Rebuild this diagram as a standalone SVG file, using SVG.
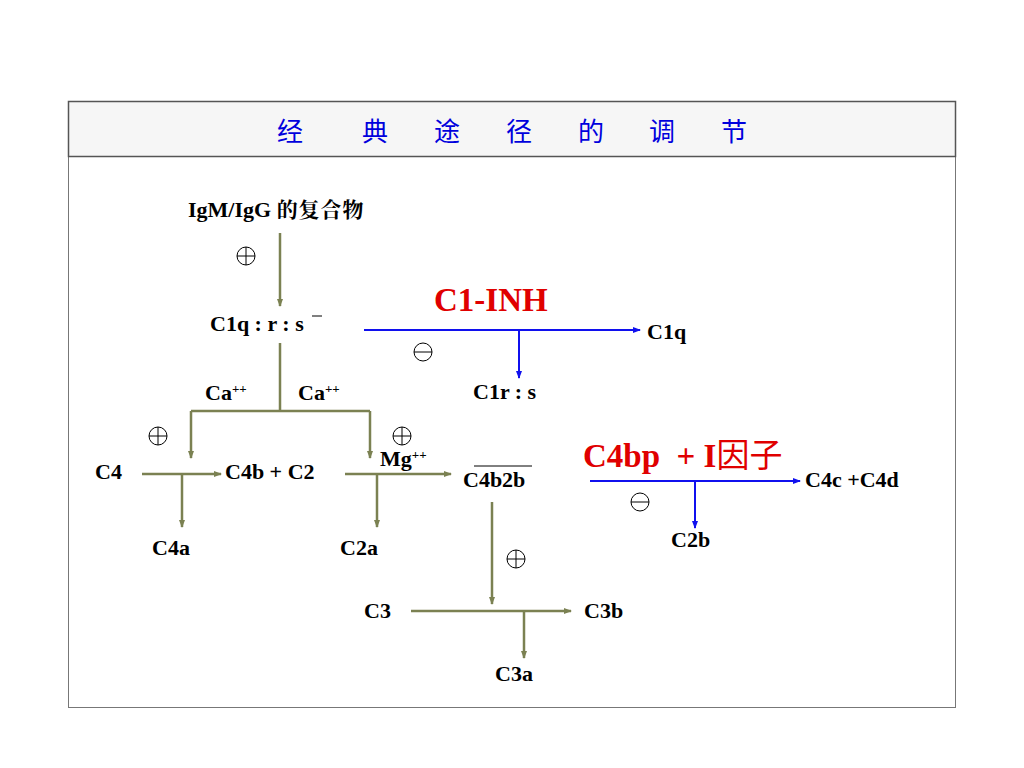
<svg xmlns="http://www.w3.org/2000/svg" width="1024" height="768" viewBox="0 0 1024 768">
<style>
.t{font-family:"Liberation Serif","Noto Serif CJK SC","Noto Sans CJK SC",serif;font-weight:bold;font-size:22px;fill:#000}
.sup{font-size:13px}
.red{font-family:"Liberation Serif","Noto Sans CJK SC",serif;font-weight:bold;font-size:33px;fill:#e00000}
.ttl{font-family:"Noto Sans CJK SC",sans-serif;font-size:26px;fill:#0000dd}
.g{stroke:#7b8152;stroke-width:2.5;fill:none}
.b{stroke:#1010ee;stroke-width:2;fill:none}
.sym{stroke:#000;stroke-width:1;fill:none}
</style>
<defs>
<marker id="ag" markerWidth="8" markerHeight="6" refX="7" refY="3" orient="auto" markerUnits="userSpaceOnUse"><path d="M0,0 L8,3 L0,6 Z" fill="#7b8152"/></marker>
<marker id="ab" markerWidth="8" markerHeight="6" refX="7" refY="3" orient="auto" markerUnits="userSpaceOnUse"><path d="M0,0 L8,3 L0,6 Z" fill="#1010ee"/></marker>
<g id="plus"><circle r="9" class="sym"/><path d="M-9,0H9M0,-9V9" class="sym"/></g>
<g id="minus"><circle r="9" class="sym"/><path d="M-9,0H9" class="sym"/></g>
</defs>
<rect width="1024" height="768" fill="#fff"/>
<g id="frame">
<rect x="68.5" y="101.5" width="887" height="606" fill="#fff" stroke="#777" stroke-width="1"/>
<rect x="68.5" y="101.5" width="887" height="55" fill="#f6f6f6" stroke="#555" stroke-width="1.5"/>
</g>
<g id="title" class="ttl" text-anchor="middle">
<text x="290" y="141">经</text><text x="375" y="141">典</text><text x="447" y="141">途</text><text x="519" y="141">径</text><text x="591" y="141">的</text><text x="662" y="141">调</text><text x="734" y="141">节</text>
</g>
<g id="connectors">
<path class="g" d="M280,233V306" marker-end="url(#ag)"/>
<path class="g" d="M280,343V411M191,411H370M191,411V458" marker-end="url(#ag)"/>
<path class="g" d="M370,411V458" marker-end="url(#ag)"/>
<path class="g" d="M142,474H221" marker-end="url(#ag)"/>
<path class="g" d="M182,474V527" marker-end="url(#ag)"/>
<path class="g" d="M345,474H451" marker-end="url(#ag)"/>
<path class="g" d="M377,474V527" marker-end="url(#ag)"/>
<path class="g" d="M492,502V604" marker-end="url(#ag)"/>
<path class="g" d="M411,611H571" marker-end="url(#ag)"/>
<path class="g" d="M524,611V658" marker-end="url(#ag)"/>
<path class="b" d="M364,330H640" marker-end="url(#ab)"/>
<path class="b" d="M519,330V378" marker-end="url(#ab)"/>
<path class="b" d="M590,481H800" marker-end="url(#ab)"/>
<path class="b" d="M695,481V528" marker-end="url(#ab)"/>
</g>
<g id="symbols">
<use href="#plus" x="246" y="256"/>
<use href="#plus" x="158" y="436"/>
<use href="#plus" x="402" y="436"/>
<use href="#plus" x="516" y="559"/>
<use href="#minus" x="423" y="352"/>
<use href="#minus" x="640" y="502"/>
</g>
<g id="n-igm"><text class="t" x="188" y="217">IgM/IgG <tspan font-family="Noto Serif CJK SC,Noto Sans CJK SC,serif" font-size="21" letter-spacing="1">的复合物</tspan></text></g>
<g id="n-c1qrs"><text class="t" x="210" y="331">C1q : r : s</text><path d="M312,316H322" stroke="#000" stroke-width="1"/></g>
<g id="n-c1inh"><text class="red" x="434" y="311">C1-INH</text></g>
<g id="n-c1q"><text class="t" x="647" y="339">C1q</text></g>
<g id="n-c1rs"><text class="t" x="473" y="399">C1r : s</text></g>
<g id="n-ca1"><text class="t" x="205" y="400">Ca<tspan class="sup" dy="-7">++</tspan></text></g>
<g id="n-ca2"><text class="t" x="298" y="400">Ca<tspan class="sup" dy="-7">++</tspan></text></g>
<g id="n-mg"><text class="t" x="380" y="466">Mg<tspan class="sup" dy="-7">++</tspan></text></g>
<g id="n-c4"><text class="t" x="95" y="479">C4</text></g>
<g id="n-c4bc2"><text class="t" x="225" y="479">C4b + C2</text></g>
<g id="n-c4a"><text class="t" x="152" y="555">C4a</text></g>
<g id="n-c2a"><text class="t" x="340" y="555">C2a</text></g>
<g id="n-c4b2b"><text class="t" x="463" y="487">C4b2b</text><path d="M474,466H532" stroke="#000" stroke-width="1"/></g>
<g id="n-c3"><text class="t" x="364" y="618">C3</text></g>
<g id="n-c3b"><text class="t" x="584" y="618">C3b</text></g>
<g id="n-c3a"><text class="t" x="495" y="681">C3a</text></g>
<g id="n-c4bp"><text class="red" x="583" y="467" xml:space="preserve">C4bp  + I<tspan font-family="Noto Sans CJK SC,sans-serif" font-weight="normal">因子</tspan></text></g>
<g id="n-c4cd"><text class="t" x="805" y="487">C4c +C4d</text></g>
<g id="n-c2b"><text class="t" x="671" y="547">C2b</text></g>
</svg>
